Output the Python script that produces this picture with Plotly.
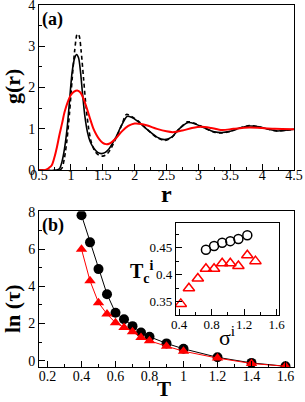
import plotly.graph_objects as go

# ---- panel (a): g(r) ----
r_solid = [0.5, 0.78, 0.82, 0.86, 0.9, 0.94, 0.98, 1.02, 1.06, 1.09, 1.12, 1.15, 1.18, 1.22, 1.26, 1.3, 1.36, 1.42, 1.48, 1.54, 1.6, 1.7, 1.8, 1.88, 1.95, 2.05, 2.2, 2.35, 2.47, 2.58, 2.7, 2.83, 2.95, 3.1, 3.25, 3.37, 3.5, 3.65, 3.8, 3.95, 4.1, 4.23, 4.35, 4.5]
g_solid = [0, 0, 0.03, 0.2, 0.52, 1.0, 1.7, 2.38, 2.72, 2.8, 2.72, 2.4, 1.9, 1.3, 0.92, 0.7, 0.53, 0.43, 0.4, 0.43, 0.52, 0.78, 1.1, 1.3, 1.28, 1.18, 0.98, 0.8, 0.74, 0.8, 1.0, 1.15, 1.12, 1.02, 0.93, 0.91, 0.94, 1.02, 1.07, 1.05, 0.99, 0.95, 0.96, 0.99]

r_dash = [0.5, 0.82, 0.86, 0.9, 0.94, 0.98, 1.02, 1.06, 1.1, 1.13, 1.16, 1.2, 1.24, 1.28, 1.32, 1.38, 1.44, 1.5, 1.56, 1.62, 1.7, 1.8, 1.87, 1.95, 2.05, 2.2, 2.35, 2.47, 2.58, 2.7, 2.83, 2.95, 3.1, 3.25, 3.37, 3.5, 3.65, 3.8, 3.95, 4.1, 4.23, 4.35, 4.5]
g_dash = [0, 0, 0.05, 0.3, 0.75, 1.4, 2.2, 2.9, 3.3, 3.25, 2.9, 2.2, 1.5, 1.0, 0.68, 0.45, 0.36, 0.34, 0.38, 0.5, 0.75, 1.1, 1.35, 1.3, 1.2, 0.98, 0.79, 0.72, 0.79, 1.0, 1.17, 1.13, 1.02, 0.92, 0.9, 0.94, 1.02, 1.08, 1.05, 0.99, 0.95, 0.96, 0.99]

r_red = [0.5, 0.58, 0.62, 0.66, 0.7, 0.74, 0.78, 0.82, 0.86, 0.9, 0.95, 1.0, 1.05, 1.1, 1.15, 1.2, 1.25, 1.3, 1.35, 1.4, 1.45, 1.5, 1.55, 1.6, 1.7, 1.8, 1.9, 2.0, 2.1, 2.2, 2.35, 2.5, 2.6, 2.75, 2.9, 3.05, 3.2, 3.37, 3.55, 3.8, 4.0, 4.2, 4.5]
g_red = [0, 0, 0.02, 0.06, 0.12, 0.3, 0.55, 0.85, 1.12, 1.4, 1.65, 1.82, 1.9, 1.93, 1.88, 1.72, 1.5, 1.25, 1.02, 0.86, 0.74, 0.66, 0.63, 0.64, 0.76, 0.94, 1.07, 1.13, 1.12, 1.08, 1.0, 0.94, 0.92, 0.96, 1.02, 1.05, 1.02, 0.97, 1.0, 1.03, 1.02, 1.0, 0.99]

# ---- panel (b): ln(tau) vs T ----
T_black = [0.4, 0.45, 0.5, 0.55, 0.6, 0.65, 0.7, 0.75, 0.8, 0.9, 1.0, 1.2, 1.4, 1.6]
lnt_black = [7.83, 6.37, 4.93, 3.58, 2.58, 2.23, 1.86, 1.52, 1.29, 0.93, 0.64, 0.18, -0.12, -0.3]
T_red = [0.4, 0.45, 0.5, 0.55, 0.6, 0.65, 0.7, 0.75, 0.8, 0.9, 1.0, 1.2, 1.4, 1.6]
lnt_red = [6.0, 4.3, 3.12, 2.51, 2.04, 1.79, 1.56, 1.25, 1.07, 0.78, 0.51, 0.14, -0.15, -0.3]

# ---- inset: Tc^i vs sigma^i ----
sig_black = [0.73, 0.83, 0.93, 1.03, 1.13, 1.24]
tc_black = [0.446, 0.453, 0.459, 0.462, 0.466, 0.473]
sig_red = [0.42, 0.52, 0.63, 0.73, 0.83, 0.93, 1.03, 1.13, 1.24, 1.34]
tc_red = [0.346, 0.375, 0.393, 0.411, 0.411, 0.421, 0.421, 0.416, 0.436, 0.425]

FONT = "Liberation Serif, Times New Roman, DejaVu Serif, serif"

fig = go.Figure()
fig.add_trace(go.Scatter(x=r_solid, y=g_solid, mode="lines", line=dict(color="black", width=1.6, shape="spline", smoothing=0.8), xaxis="x", yaxis="y"))
fig.add_trace(go.Scatter(x=r_dash, y=g_dash, mode="lines", line=dict(color="black", width=1.6, dash="4px,3px", shape="spline", smoothing=0.8), xaxis="x", yaxis="y"))
fig.add_trace(go.Scatter(x=r_red, y=g_red, mode="lines", line=dict(color="#ff0000", width=2, shape="spline", smoothing=0.8), xaxis="x", yaxis="y"))

fig.add_trace(go.Scatter(x=T_black, y=lnt_black, mode="lines+markers", line=dict(color="black", width=1),
                         marker=dict(symbol="circle", size=10, color="black"), xaxis="x2", yaxis="y2"))
fig.add_trace(go.Scatter(x=T_red, y=lnt_red, mode="lines+markers", line=dict(color="#ff0000", width=1),
                         marker=dict(symbol="triangle-up", size=10, color="#ff0000"), xaxis="x2", yaxis="y2"))

fig.add_trace(go.Scatter(x=sig_black, y=tc_black, mode="markers",
                         marker=dict(symbol="circle-open", size=9, color="black", line=dict(width=1.5)), xaxis="x3", yaxis="y3"))
fig.add_trace(go.Scatter(x=sig_red, y=tc_red, mode="markers",
                         marker=dict(symbol="triangle-up-open", size=10, color="#ff0000", line=dict(width=1.5)), xaxis="x3", yaxis="y3"))

def ax(**kw):
    d = dict(showgrid=False, zeroline=False, showline=True, linecolor="black", linewidth=1, mirror=True,
             ticks="inside", ticklen=6, tickcolor="black", tickwidth=1, automargin=False,
             ticklabeloverflow="allow",
             tickfont=dict(family=FONT, size=14, color="black"))
    d.update(kw)
    return d

fig.update_layout(
    width=305, height=402, showlegend=False,
    margin=dict(l=39, r=11, t=5, b=35),
    paper_bgcolor="white", plot_bgcolor="white",
    xaxis=ax(domain=[0, 1], range=[0.5, 4.5], dtick=0.5, tick0=0.5, anchor="y", ticklabelstandoff=-8,
             minor=dict(ticks="inside", ticklen=3, dtick=0.25, tickcolor="black")),
    yaxis=ax(domain=[0.5438, 1], range=[0, 4], dtick=1, anchor="x",
             minor=dict(ticks="inside", ticklen=3, dtick=0.5, tickcolor="black")),
    xaxis2=ax(domain=[0, 1], range=[0.15, 1.65], dtick=0.2, tick0=0.2, anchor="y2", ticklabelstandoff=-4,
              minor=dict(ticks="inside", ticklen=3, dtick=0.1, tickcolor="black")),
    yaxis2=ax(domain=[0, 0.4305], range=[-0.34, 8.05], dtick=2, tick0=0, anchor="x2",
              minor=dict(ticks="inside", ticklen=3, dtick=1, tickcolor="black")),
    xaxis3=ax(domain=[0.537, 0.941], range=[0.36, 1.63], dtick=0.4, tick0=0.4, anchor="y3", ticklabelstandoff=-3,
              tickfont=dict(family=FONT, size=13, color="black"),
              minor=dict(ticks="inside", ticklen=3, dtick=0.2, tickcolor="black")),
    yaxis3=ax(domain=[0.143, 0.397], range=[0.325, 0.495], dtick=0.05, tick0=0.35, anchor="x3",
              tickfont=dict(family=FONT, size=13, color="black"),
              minor=dict(ticks="inside", ticklen=3, dtick=0.025, tickcolor="black")),
)

def ann(text, x, y, size, bold=True, angle=0, xanchor="center"):
    fig.add_annotation(text=("<b>%s</b>" % text) if bold else text, x=x, y=y, xref="paper", yref="paper",
                       showarrow=False, textangle=angle, xanchor=xanchor, yanchor="middle",
                       font=dict(family=FONT, size=size, color="black"))

def px(xp):
    return (xp - 39) / 255.0

def py(yp):
    return (367.0 - yp) / 362.0

ann("(a)", px(40), py(20), 18, xanchor="left")
ann("(b)", px(40), py(225), 18, xanchor="left")
ann("r", px(166), py(194), 24)
ann("T", px(164), py(389), 21)
ann("g(r)", px(13), py(87), 22, angle=-90)
ann("ln (τ)", px(12), py(309), 22, angle=-90)
ann("T<sub>c</sub><sup>i</sup>", px(142), py(272), 20)
ann("σ<sup>i</sup>", px(227), py(336), 22, bold=False)

fig.write_html("out.html", config={"displayModeBar": False},
               post_script="document.body.style.margin='0';document.body.style.overflow='hidden';")
